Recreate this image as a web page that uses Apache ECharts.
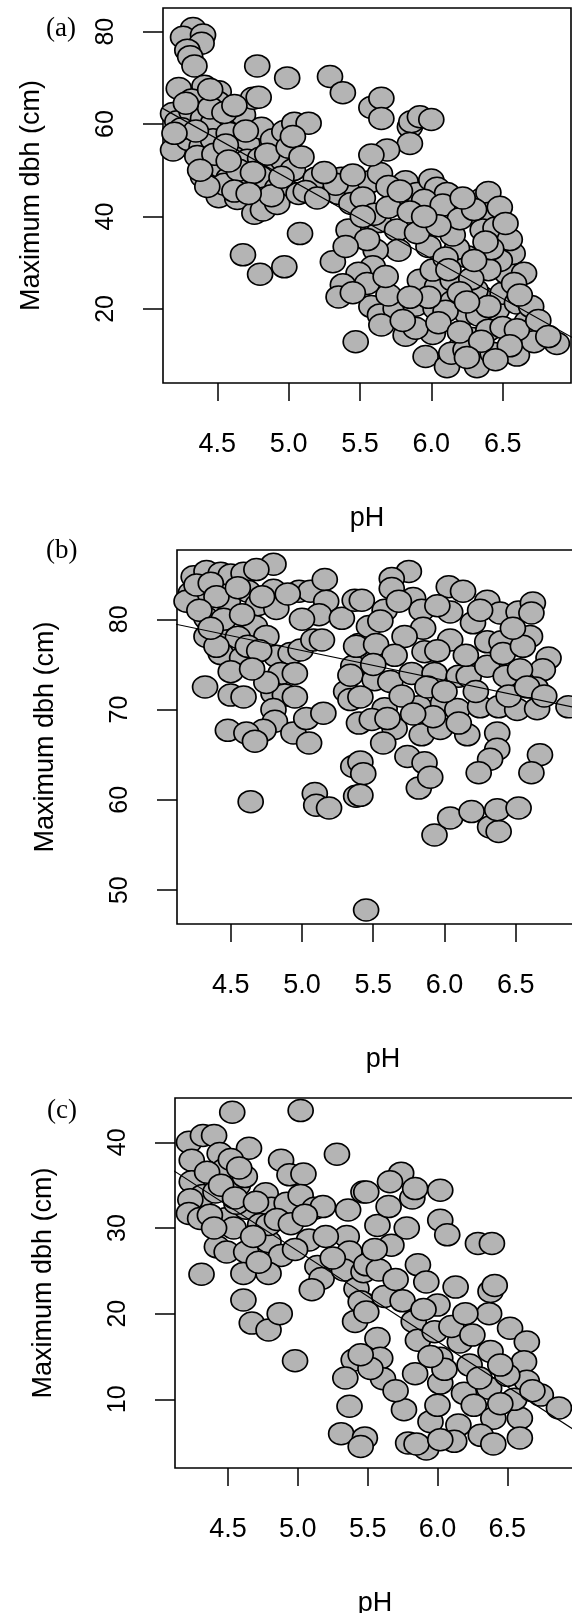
<!DOCTYPE html>
<html>
<head>
<meta charset="utf-8">
<script src="https://cdn.jsdelivr.net/npm/echarts@6/dist/echarts.min.js"></script>
<style>
  html, body { margin: 0; padding: 0; background: #fff; }
  #chart { width: 572px; height: 1613px; }
</style>
</head>
<body>
<div id="chart"></div>
<script>
// panel (a): pH vs maximum dbh
var pointsA = [
  [4.33,80.7],[4.26,78.8],[4.40,79.3],[4.39,77.5],[4.29,76.0],[4.31,74.6],[4.34,72.6],[4.23,67.7],[4.41,68.2],[4.51,67.0],
  [4.32,65.2],[4.50,64.8],[4.19,62.3],[4.22,60.5],[4.32,62.7],[4.40,61.2],[4.47,60.2],[4.60,61.2],[4.68,62.0],[4.75,65.6],
  [4.79,65.8],[4.23,56.2],[4.19,54.4],[4.30,56.6],[4.39,55.1],[4.47,56.6],[4.58,58.0],[4.64,55.1],[4.71,55.8],[4.81,59.1],
  [4.89,56.6],[4.97,58.4],[5.04,60.2],[4.44,50.8],[4.40,48.6],[4.52,50.8],[4.61,52.9],[4.71,52.2],[4.80,52.6],[4.87,50.8],
  [4.96,52.2],[5.03,50.1],[4.58,48.3],[4.68,47.5],[4.80,48.6],[4.92,46.1],[5.00,45.4],[4.51,44.3],[4.64,43.9],[4.76,40.7],
  [4.82,41.4],[4.92,42.8],[5.07,45.0],[4.68,31.7],[4.80,27.5],[4.97,29.1],[4.78,72.6],[4.99,70.0],[5.08,36.3],
  [4.25,59.0],[4.35,58.5],[4.45,63.5],[4.55,62.5],[4.62,64.0],[4.36,53.0],[4.48,53.5],[4.55,47.0],[4.65,50.0],[4.75,49.5],
  [4.85,53.5],[4.70,58.5],[4.56,55.5],[4.43,46.5],[4.62,45.5],[4.88,44.5],[4.95,48.5],[5.00,55.0],[4.28,64.5],[4.45,67.5],
  [5.29,70.3],[5.38,66.8],[5.58,63.6],[5.65,65.6],[5.65,61.2],[5.85,59.4],[5.86,60.5],[5.92,61.6],[6.00,61.0],[5.85,55.8],
  [5.14,60.2],[5.03,57.3],[5.09,52.9],[5.19,48.3],[5.12,45.4],[5.37,48.3],[5.35,45.0],[5.48,45.4],[5.57,47.5],[5.64,49.3],
  [5.69,54.4],[5.58,53.3],[5.44,42.8],[5.50,37.1],[5.42,37.1],[5.63,38.9],[5.75,43.6],[5.82,47.5],[5.90,45.0],[6.00,47.9],
  [6.04,46.1],[6.11,45.0],[6.15,40.7],[6.24,42.1],[6.36,43.9],[6.40,45.2],[6.41,40.7],[6.36,37.1],[6.25,31.3],[6.18,33.1],
  [6.15,36.0],[5.98,33.5],[5.92,26.2],[6.04,24.8],[6.01,28.4],[5.76,37.1],[5.77,32.7],[5.61,32.7],[5.59,29.1],[5.49,27.7],
  [5.38,25.2],[5.31,30.2],[5.35,22.6],[5.58,20.5],[5.64,18.7],[5.75,20.1],[5.89,20.8],[6.03,20.1],[5.82,14.3],[5.96,9.7],
  [6.11,7.5],[6.21,11.8],[6.29,13.6],[6.32,7.5],[6.43,10.4],[6.15,21.6],[6.25,19.0],[6.33,18.7],[6.35,22.6],[6.46,19.8],
  [6.50,23.4],[6.53,27.7],[6.57,32.0],[6.65,27.7],[6.60,21.3],[6.67,17.2],[6.73,16.1],[6.60,12.9],[6.60,10.0],[6.72,12.9],
  [6.88,12.5],[5.47,12.9],[6.14,10.4],[6.24,11.1],[6.01,14.7],[5.89,15.8],[6.40,15.4],[6.31,24.1],[6.15,26.2],
  [5.33,47.0],[5.45,49.0],[5.52,44.0],[5.70,46.5],[5.95,43.5],[6.08,42.5],[6.20,39.5],[6.30,41.5],[6.45,37.5],[6.55,35.0],
  [6.48,30.5],[6.40,28.5],[6.28,26.5],[6.20,23.5],[6.10,19.5],[5.98,22.5],[5.70,23.0],[5.55,25.5],[5.45,23.5],[5.65,16.5],
  [5.80,17.5],[6.05,17.0],[6.20,15.0],[6.35,13.0],[6.50,16.0],[6.60,15.5],[6.70,20.5],[6.55,12.0],[6.45,9.0],[6.25,9.5],
  [5.60,40.5],[5.70,42.0],[5.85,41.0],[5.55,35.0],[5.40,33.5],[5.90,36.5],[6.05,38.0],[6.10,31.0],[6.42,33.0],
  [4.20,58.0],[4.38,50.0],[4.58,52.0],[4.72,45.0],[5.20,44.0],[5.25,49.5],[5.52,40.0],[5.78,45.5],[5.95,40.0],[6.22,44.0],
  [6.48,42.0],[6.52,38.5],[6.38,34.5],[6.30,30.5],[6.58,25.5],[6.62,23.0],[6.75,17.5],[6.82,14.0],[6.40,20.5],[6.25,21.5],
  [6.12,28.5],[5.85,22.5],[5.68,27.0]
];
var fitA = [[4.10, 63.7], [7.00, 13.6]];

// panel (b)
var pointsB = [
  [4.80,86.1],[4.24,84.7],[4.33,85.3],[4.43,85.1],[4.50,84.9],[4.59,85.1],[4.68,85.5],[4.22,82.9],[4.31,82.9],[4.19,82.0],
  [4.48,82.0],[4.62,83.1],[4.69,81.6],[4.80,83.2],[4.82,81.2],[4.98,83.1],[5.06,83.1],[5.16,84.4],[5.17,82.0],[5.12,80.5],
  [5.28,80.1],[4.33,80.1],[4.39,78.6],[4.33,78.1],[4.67,79.2],[4.75,78.1],[4.50,76.2],[4.43,76.2],[4.58,75.7],[4.82,75.9],
  [4.92,76.2],[4.99,76.6],[5.08,77.7],[5.14,77.7],[4.85,74.0],[4.50,74.2],[4.32,72.5],[4.50,71.6],[4.59,71.4],[4.80,71.8],
  [4.88,71.6],[4.95,71.4],[4.80,70.0],[4.81,68.7],[4.73,67.7],[4.94,67.4],[5.03,69.0],[5.15,69.6],[4.48,67.7],[4.61,67.4],
  [4.67,66.5],[5.05,66.3],[4.64,59.8],[5.09,60.7],[5.10,59.4],[5.19,59.1],[5.36,63.7],[5.38,60.4],[5.45,47.8],[5.37,82.1],
  [5.40,77.2],[5.36,74.8],[5.31,72.0],[5.40,68.5],[5.34,71.1],
  [4.26,83.8],[4.36,84.0],[4.40,82.5],[4.55,83.5],[4.28,81.0],[4.45,80.0],[4.58,80.5],[4.72,82.5],[4.90,82.8],[4.55,78.0],
  [4.62,77.0],[4.70,76.5],[4.40,77.0],[4.75,73.0],[4.65,74.5],[4.95,74.0],[5.00,80.0],[4.36,79.0],
  [5.75,85.3],[5.63,84.5],[5.63,83.4],[5.42,82.1],[5.58,81.0],[5.78,82.3],[5.84,81.0],[6.03,83.6],[6.13,83.1],[6.04,80.8],
  [6.30,82.0],[6.39,80.7],[6.52,80.8],[6.62,81.8],[6.61,80.7],[5.47,79.2],[5.85,79.0],[6.04,77.7],[5.38,77.0],[5.52,77.2],
  [5.72,78.1],[5.86,76.4],[6.30,77.5],[6.40,77.5],[6.60,78.1],[6.73,75.7],[6.69,74.4],[5.34,73.8],[5.51,73.3],[5.62,73.1],
  [5.77,74.0],[5.93,74.0],[6.10,73.7],[6.17,73.7],[6.30,74.8],[6.43,73.7],[6.53,74.4],[6.64,72.4],[5.41,71.4],[5.58,70.1],
  [5.82,70.3],[5.99,70.7],[6.09,70.0],[6.25,70.3],[6.38,70.3],[6.51,70.0],[6.65,70.1],[6.87,70.3],[5.49,68.9],[5.65,67.9],
  [5.84,67.2],[5.97,67.9],[6.16,67.2],[6.37,67.4],[5.57,66.3],[5.74,64.8],[5.86,64.1],[6.37,65.6],[6.32,64.5],[6.24,63.0],
  [6.67,65.0],[6.61,63.0],[5.82,61.3],[5.41,64.2],[5.43,62.9],[5.41,60.5],[5.93,56.1],[6.04,58.0],[6.19,58.7],[6.32,57.0],
  [6.38,56.5],[6.37,58.9],[6.52,59.1],[5.92,69.2],[5.88,72.5],[6.41,76.2],[6.20,79.6],
  [5.55,79.8],[5.65,76.0],[5.70,71.5],[5.95,76.5],[6.15,76.0],[6.22,72.0],[6.45,71.5],[6.55,77.0],[6.48,79.0],[5.68,82.0],
  [5.95,81.5],[6.25,81.0],[5.50,75.0],[6.00,72.0],[6.58,72.5],[5.78,69.5],[6.10,68.5],[6.70,71.5],[5.60,69.0],[5.90,62.5]
];
var fitB = [[4.10, 79.5], [7.20, 69.3]];

// panel (c)
var pointsC = [
  [4.53,43.5],[5.02,43.7],[4.22,40.0],[4.32,40.8],[4.40,40.8],[4.24,37.9],[4.65,39.3],[4.88,37.9],[5.28,38.6],[4.44,38.7],
  [4.47,36.8],[4.94,36.2],[5.04,36.3],[4.24,35.4],[4.32,33.8],[4.23,33.3],[4.22,31.7],[4.30,31.1],[4.41,34.2],[4.49,31.1],
  [4.57,35.0],[4.63,32.3],[4.77,34.0],[4.81,32.3],[4.92,32.9],[5.02,33.8],[5.12,32.3],[5.18,32.5],[5.36,32.1],[4.42,27.8],
  [4.49,27.2],[4.63,27.2],[4.79,28.4],[4.88,26.8],[5.08,28.6],[5.14,25.5],[5.17,24.1],[5.10,22.8],[4.31,24.6],[4.61,24.7],
  [4.79,24.7],[4.61,21.6],[4.67,18.9],[4.79,18.1],[4.87,20.0],[4.98,14.5],[5.35,29.0],[5.37,27.2],[5.33,25.1],[5.42,22.9],
  [5.41,19.1],[5.47,21.2],[5.40,14.6],[5.34,12.5],[5.37,9.2],[5.31,6.0],[5.47,34.2],[5.47,24.9],[4.73,30.4],[4.79,30.4],
  [4.54,30.0],[4.37,31.5],[4.56,32.9],
  [4.35,36.5],[4.45,35.0],[4.55,33.5],[4.62,36.0],[4.70,33.0],[4.85,31.0],[4.95,30.5],[4.68,29.0],[4.40,30.0],[4.52,38.0],
  [4.58,37.0],[5.05,31.5],[4.98,27.5],[4.72,26.0],[5.20,29.0],[5.25,26.5],
  [5.74,36.4],[5.66,35.4],[5.49,34.2],[5.82,33.5],[5.84,34.6],[6.02,34.4],[6.02,30.9],[6.07,29.2],[6.29,28.2],[6.39,28.2],
  [5.57,30.3],[5.67,28.0],[5.49,25.7],[5.58,25.1],[5.86,25.7],[5.92,23.7],[6.13,23.1],[6.38,22.6],[6.41,23.3],[5.45,21.4],
  [5.49,20.2],[6.00,21.0],[5.83,19.1],[6.37,20.0],[6.52,18.3],[6.64,16.7],[5.57,17.1],[5.59,14.8],[5.61,12.4],[5.52,13.6],
  [5.86,16.9],[5.84,13.0],[6.02,11.9],[6.16,16.7],[6.19,10.7],[6.37,11.3],[6.23,14.0],[6.38,15.6],[6.62,14.4],[6.64,12.1],
  [6.50,12.8],[6.74,10.5],[6.87,9.0],[5.76,8.8],[5.95,7.4],[6.00,9.3],[6.26,9.3],[6.40,7.8],[6.59,7.8],[6.15,7.0],
  [5.79,4.9],[6.12,5.1],[6.31,5.8],[6.59,5.5],[5.98,17.9],[6.02,14.8],[5.45,15.2],[5.48,5.5],
  [5.45,4.5],[5.92,4.2],[5.85,4.8],[6.40,4.8],[6.02,5.3],
  [5.55,27.5],[5.62,22.0],[5.70,24.0],[5.75,21.5],[5.90,20.5],[6.10,18.5],[6.25,17.5],[6.30,12.5],[6.45,14.0],[6.55,10.0],
  [6.05,13.5],[5.95,15.0],[5.70,11.0],[6.20,20.0],[5.78,30.0],[5.65,32.5],[6.45,9.5],[6.68,11.0]
];
var fitC = [[4.10, 36.8], [7.20, 4.1]];

var phTicks = [4.5, 5.0, 5.5, 6.0, 6.5];
var dbhTicksA = [20, 40, 60, 80];
var dbhTicksB = [50, 60, 70, 80];
var dbhTicksC = [10, 20, 30, 40];

var chart = echarts.init(document.getElementById('chart'));

var sans = '"Liberation Sans", Arial, Helvetica, sans-serif';
var serif = '"Liberation Serif", "Times New Roman", serif';

function xAxisFor(idx, min, max) {
  return {
    type: 'value', gridIndex: idx, min: min, max: max,
    name: 'pH', nameLocation: 'middle', nameGap: 122,
    nameTextStyle: { fontFamily: sans, fontSize: 27, color: '#000' },
    axisLine: { show: false },
    axisTick: { customValues: phTicks, length: 18, lineStyle: { color: '#000', width: 1.5 } },
    axisLabel: {
      customValues: phTicks, margin: 48, color: '#000', fontFamily: sans, fontSize: 27,
      formatter: function (v) { return v.toFixed(1); }
    },
    splitLine: { show: false }
  };
}

function yAxisFor(idx, min, max, ticks) {
  return {
    type: 'value', gridIndex: idx, min: min, max: max,
    name: 'Maximum dbh (cm)', nameLocation: 'middle', nameGap: 118, nameRotate: 90,
    nameTextStyle: { fontFamily: sans, fontSize: 27, color: '#000' },
    axisLine: { show: false },
    axisTick: { customValues: ticks, length: 20, lineStyle: { color: '#000', width: 1.5 } },
    axisLabel: {
      customValues: ticks, margin: 44, rotate: 90, color: '#000', fontFamily: sans, fontSize: 25
    },
    splitLine: { show: false }
  };
}

function scatterFor(idx, pts) {
  return {
    type: 'scatter', xAxisIndex: idx, yAxisIndex: idx, data: pts,
    symbol: 'circle', symbolSize: [25, 22],
    itemStyle: { color: '#b4b4b4', borderColor: '#000', borderWidth: 1.6, opacity: 1 },
    emphasis: { disabled: true }, z: 2
  };
}

function fitFor(idx, pts) {
  return {
    type: 'line', xAxisIndex: idx, yAxisIndex: idx, data: pts,
    showSymbol: false, symbol: 'none', clip: true,
    lineStyle: { color: '#000', width: 1.2 }, z: 3
  };
}

// grids (b) and (c) run past the right edge of the page, as in the source figure
var gridStyle = {
  show: true, borderColor: '#000', borderWidth: 1.6, backgroundColor: 'transparent',
  containLabel: false, outerBoundsMode: 'none'
};

var option = {
  animation: false,
  backgroundColor: '#fff',
  grid: [
    Object.assign({ left: 163, top: 8, width: 408, height: 375 }, gridStyle),
    Object.assign({ left: 177, top: 550, width: 412, height: 374 }, gridStyle),
    Object.assign({ left: 175, top: 1098, width: 400, height: 370 }, gridStyle)
  ],
  xAxis: [
    xAxisFor(0, 4.1195, 6.979),
    xAxisFor(1, 4.123, 7.014),
    xAxisFor(2, 4.120, 6.985)
  ],
  yAxis: [
    yAxisFor(0, 3.96, 85.13, dbhTicksA),
    yAxisFor(1, 46.25, 87.67, dbhTicksB),
    yAxisFor(2, 1.99, 45.17, dbhTicksC)
  ],
  graphic: [
    { type: 'text', left: 46, top: 15, style: { text: '(a)', fontFamily: serif, fontSize: 27, fill: '#000' } },
    { type: 'text', left: 46, top: 537, style: { text: '(b)', fontFamily: serif, fontSize: 27, fill: '#000' } },
    { type: 'text', left: 47, top: 1097, style: { text: '(c)', fontFamily: serif, fontSize: 27, fill: '#000' } }
  ],
  series: [
    scatterFor(0, pointsA), fitFor(0, fitA),
    scatterFor(1, pointsB), fitFor(1, fitB),
    scatterFor(2, pointsC), fitFor(2, fitC)
  ]
};

chart.setOption(option);
</script>
</body>
</html>
